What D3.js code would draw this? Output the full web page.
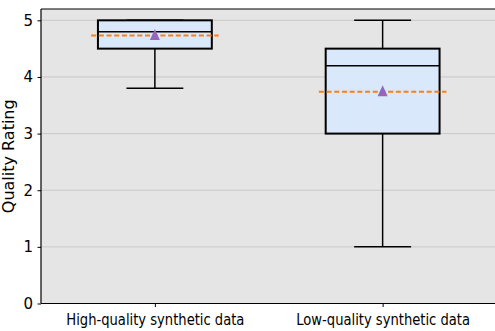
<!DOCTYPE html>
<html>
<head>
<meta charset="utf-8">
<script src="https://cdn.jsdelivr.net/npm/d3@7"></script>
<style>
  html, body { margin: 0; padding: 0; background: #fff; }
  svg { display: block; font-family: "DejaVu Sans", sans-serif; }
</style>
</head>
<body>
<svg id="chart" width="495" height="331"></svg>
<script>
// box stats
var categories = ["High-quality synthetic data", "Low-quality synthetic data"];
var q1 = [4.5, 3.0];
var q3 = [5.0, 4.5];
var medians = [4.8, 4.2];
var whiskerLow = [3.8, 1.0];
var whiskerHigh = [5.0, 5.0];
var means = [4.73, 3.74];
var yTicks = [0, 1, 2, 3, 4, 5];

var m = { left: 41, top: 9, right: 496.5, bottom: 303.5 };
var svg = d3.select("#chart");

var x = d3.scaleLinear().domain([0.5, 2.5]).range([m.left, m.right]);
var y = d3.scaleLinear().domain([0, 5.2]).range([m.bottom, m.top]);

svg.append("rect").attr("x", m.left).attr("y", m.top)
  .attr("width", m.right - m.left).attr("height", m.bottom - m.top)
  .attr("fill", "#e5e5e5");

// grid
svg.append("g").selectAll("line").data(yTicks).enter().append("line")
  .attr("x1", m.left).attr("x2", m.right)
  .attr("y1", function (d) { return y(d); }).attr("y2", function (d) { return y(d); })
  .attr("stroke", "#c9c9c9").attr("stroke-width", 1);

var g = svg.append("g");
categories.forEach(function (c, i) {
  var p = i + 1;
  // whiskers
  g.append("line").attr("x1", x(p)).attr("x2", x(p))
    .attr("y1", y(q1[i])).attr("y2", y(whiskerLow[i]))
    .attr("stroke", "#000").attr("stroke-width", 1.5);
  g.append("line").attr("x1", x(p)).attr("x2", x(p))
    .attr("y1", y(q3[i])).attr("y2", y(whiskerHigh[i]))
    .attr("stroke", "#000").attr("stroke-width", 1.5);
  [whiskerLow[i], whiskerHigh[i]].forEach(function (v) {
    g.append("line").attr("x1", x(p - 0.125)).attr("x2", x(p + 0.125))
      .attr("y1", y(v)).attr("y2", y(v))
      .attr("stroke", "#000").attr("stroke-width", 1.5);
  });
  // box
  g.append("rect").attr("x", x(p - 0.25)).attr("y", y(q3[i]))
    .attr("width", x(p + 0.25) - x(p - 0.25)).attr("height", y(q1[i]) - y(q3[i]))
    .attr("fill", "#d9e8fa").attr("stroke", "#000").attr("stroke-width", 2);
  // median
  g.append("line").attr("x1", x(p - 0.25)).attr("x2", x(p + 0.25))
    .attr("y1", y(medians[i])).attr("y2", y(medians[i]))
    .attr("stroke", "#000").attr("stroke-width", 1.5);
  // mean line
  g.append("line").attr("x1", x(p - 0.28)).attr("x2", x(p + 0.28))
    .attr("y1", y(means[i])).attr("y2", y(means[i]))
    .attr("stroke", "#ff7f0e").attr("stroke-width", 2)
    .attr("stroke-dasharray", "5,2.7");
  // mean marker
  g.append("path")
    .attr("transform", "translate(" + x(p) + "," + y(means[i]) + ")")
    .attr("d", "M0,-6.5L5,4.5L-5,4.5Z")
    .attr("fill", "#9467bd");
});

// spines
svg.append("line").attr("x1", m.left).attr("x2", m.right).attr("y1", m.top).attr("y2", m.top)
  .attr("stroke", "#000").attr("stroke-width", 1.2);

var ya = svg.append("g").attr("transform", "translate(" + m.left + ",0)")
  .call(d3.axisLeft(y).tickValues(yTicks).tickSize(3.5).tickPadding(4.5).tickFormat(d3.format("d")));
ya.select(".domain").attr("d", "M0," + m.top + "V" + m.bottom).attr("stroke-width", 1.2);
ya.selectAll("text").attr("font-size", 15).attr("font-family", "DejaVu Sans").attr("fill", "#000");

var xa = svg.append("g").attr("transform", "translate(0," + m.bottom + ")")
  .call(d3.axisBottom(x).tickValues([1, 2]).tickSize(3.5).tickPadding(7)
    .tickFormat(function (d) { return categories[d - 1]; }));
xa.select(".domain").attr("d", "M" + m.left + ",0H" + m.right).attr("stroke-width", 1.2);
xa.selectAll("text").attr("font-size", 16).attr("font-family", "DejaVu Sans").attr("fill", "#000")
  .attr("transform", "scale(0.82,1)");

svg.append("text")
  .attr("transform", "translate(14," + ((m.top + m.bottom) / 2) + ") rotate(-90)")
  .attr("text-anchor", "middle").attr("font-size", 16)
  .text("Quality Rating");
</script>
</body>
</html>
